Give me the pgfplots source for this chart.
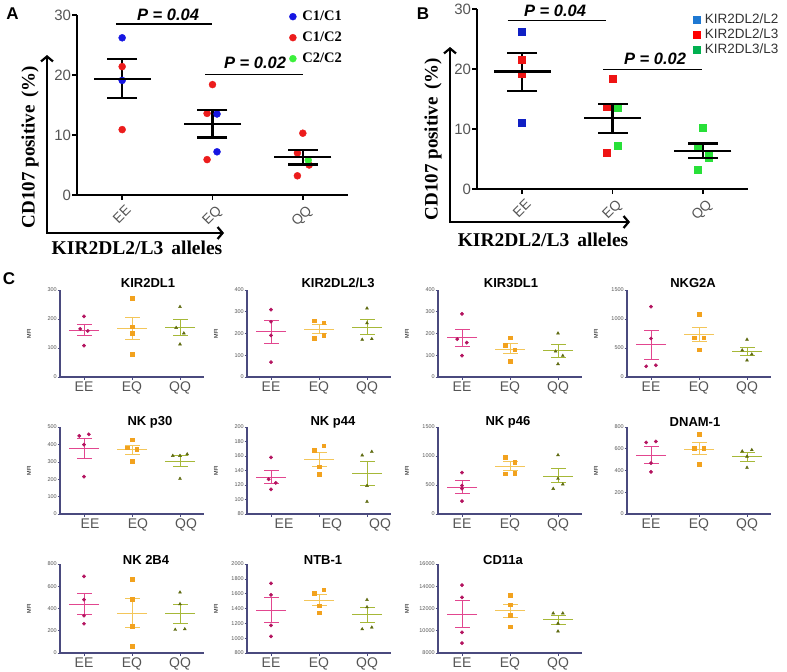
\documentclass[border=0pt]{standalone}
\usepackage{pgfplots}
\pgfplotsset{compat=1.18}
\usepackage{fontspec}
\setmainfont{Liberation Sans}
\newfontfamily\tnr{Liberation Serif}
\usetikzlibrary{arrows.meta}

\newcommand\fsz[1]{\fontsize{#1bp}{#1bp}\selectfont}

% panel A / B colours
\definecolor{cAblue}{HTML}{1616E2}
\definecolor{cAred}{HTML}{EC1C1C}
\definecolor{cAgreen}{HTML}{3CF03C}
\definecolor{cBblue}{HTML}{1020C4}
\definecolor{cBred}{HTML}{EE1414}
\definecolor{cBgreen}{HTML}{28E038}
\definecolor{lBblue}{HTML}{1E78D2}
\definecolor{lBred}{HTML}{FF0000}
\definecolor{lBgreen}{HTML}{00B050}
\definecolor{tgray}{HTML}{555555}
% panel C colours
\definecolor{cEEp}{HTML}{B3135F}
\definecolor{cEEl}{HTML}{E2468F}
\definecolor{cEQp}{HTML}{F2A21E}
\definecolor{cEQl}{HTML}{F3C65A}
\definecolor{cQQp}{HTML}{5E6A10}
\definecolor{cQQl}{HTML}{A6B838}
\definecolor{axc}{HTML}{4A4A7E}

\pgfplotsset{
  ptE/.style={only marks, mark=*, mark size=1.7bp, color=cEEp, forget plot},
  ptQ/.style={only marks, mark=square*, mark size=1.8bp, color=cEQp, forget plot},
  ptG/.style={only marks, mark=triangle*, mark size=1.7bp, color=cQQp, forget plot},
  cpanel/.style={
    anchor=south west, scale only axis, width=144bp,
    axis lines=left, axis line style={-, draw=axc, line width=1.3bp},
    xmin=-0.5, xmax=2.5, xtick={0,1,2}, xticklabels={EE,EQ,QQ},
    tick align=outside, major tick length=2.5bp,
    tick style={draw=axc, line width=0.6bp},
    xticklabel style={font=\fsz{14}, text=tgray, inner sep=1bp, yshift=-1.5bp},
    yticklabel style={font=\fsz{5.5}, text=tgray, inner sep=0.6bp},
    ylabel=MFI,
    ylabel style={font=\fsz{5.5}, at={(axis description cs:-0.215,0.5)}, anchor=center},
    /pgf/number format/1000 sep={}, /pgf/number format/assume math mode=true,
    scaled y ticks=false, clip=false,
    meanmark/.style={mark=-, mark size=15bp, line width=0.8bp},
    capmark/.style={mark=-, mark size=7.5bp, line width=0.8bp},
  },
  abpanel/.style={
    anchor=south west, scale only axis, width=271bp, height=180bp,
    axis lines=left, axis line style={-, line width=2.2bp},
    xmin=-0.5, xmax=2.5, ymin=0, ymax=30,
    xtick={0,1,2}, xticklabels={EE,EQ,QQ}, ytick={0,10,20,30},
    tick align=outside, major tick length=5bp,
    tick style={black, line width=1.5bp},
    xticklabel style={rotate=45, anchor=north east, font=\fsz{14}, text=tgray,
      inner sep=1bp, yshift=-4bp},
    yticklabel style={font=\fsz{15}, text=tgray, inner sep=0.8bp},
    /pgf/number format/assume math mode=true,
    clip=false,
    legend style={anchor=north west, draw=none, fill=none},
    legend cell align=left,
    meanmark/.style={mark=-, mark size=28.5bp, line width=2.2bp},
    capmark/.style={mark=-, mark size=15bp, line width=2.2bp},
  },
}

% mean line and SEM bar of one group: colour, x, mean, upper, lower
\newcommand\msem[5]{%
  \addplot[#1, meanmark, only marks, forget plot] coordinates {(#2,#3)};
  \addplot[#1, capmark, forget plot] coordinates {(#2,#4) (#2,#5)};
}

\begin{document}
\begin{tikzpicture}
\path[use as bounding box] (0,0) rectangle (787bp,-672bp);

% ---------------- panel A
\begin{axis}[abpanel, at={(77bp,-195bp)},
  legend style={at={(axis description cs:0.772,1.046)}, font=\tnr\bfseries\fsz{14.5},
    nodes={text height=10.5bp, text depth=3bp, inner sep=1bp}, row sep=5.5bp, column sep=5bp}]
\addlegendimage{only marks, mark=*, mark size=3.5bp, cAblue}
\addlegendimage{only marks, mark=*, mark size=3.5bp, cAred}
\addlegendimage{only marks, mark=*, mark size=3.5bp, cAgreen}
\legend{C1/C1, C1/C2, C2/C2}
\addplot[only marks, mark=*, mark size=3.5bp, cAred, forget plot] coordinates {
  (0,21.4) (0,10.9) (1,18.4) (0.94,13.6) (0.94,5.9) (2,10.3) (1.94,7.0) (2.07,5.0) (1.94,3.2)};
\addplot[only marks, mark=*, mark size=3.5bp, cAblue, forget plot] coordinates {
  (0,26.2) (0,19.1) (1.05,13.5) (1.05,7.2)};
\addplot[only marks, mark=*, mark size=3.5bp, cAgreen, forget plot] coordinates {(2.06,5.8)};
\msem{black}{0}{19.3}{22.7}{16.2}
\msem{black}{1}{11.8}{14.2}{9.6}
\msem{black}{2}{6.4}{7.5}{5.1}
\addplot[black, line width=1.4bp, forget plot] coordinates {(-0.07,28.5) (1.0,28.5)};
\addplot[black, line width=1.4bp, forget plot] coordinates {(0.92,20.1) (2.0,20.1)};
\end{axis}

% ---------------- panel B
\begin{axis}[abpanel, at={(477bp,-189bp)},
  legend style={at={(axis description cs:0.786,0.992)}, font=\fsz{13.5}, text=black!80,
    nodes={text height=9.5bp, text depth=2.5bp, inner sep=1bp}, row sep=1bp, column sep=4bp}]
\addlegendimage{only marks, mark=square*, mark size=3.3bp, lBblue}
\addlegendimage{only marks, mark=square*, mark size=3.3bp, lBred}
\addlegendimage{only marks, mark=square*, mark size=3.3bp, lBgreen}
\legend{KIR2DL2/L2, KIR2DL2/L3, KIR2DL3/L3}
\addplot[only marks, mark=square*, mark size=3.5bp, cBblue, forget plot] coordinates {
  (0,26.3) (0,11.0)};
\addplot[only marks, mark=square*, mark size=3.5bp, cBred, forget plot] coordinates {
  (0,21.5) (0,19.2) (1,18.4) (0.94,13.8) (0.94,6.1)};
\addplot[only marks, mark=square*, mark size=3.5bp, cBgreen, forget plot] coordinates {
  (1.06,13.5) (1.06,7.3) (2,10.3) (1.94,7.1) (2.06,5.6) (2.06,5.2) (1.94,3.3)};
\msem{black}{0}{19.6}{22.7}{16.4}
\msem{black}{1}{11.9}{14.2}{9.4}
\msem{black}{2}{6.4}{7.6}{5.2}
\addplot[black, line width=1.4bp, forget plot] coordinates {(-0.16,28.05) (0.93,28.05)};
\addplot[black, line width=1.4bp, forget plot] coordinates {(0.90,19.9) (1.99,19.9)};
\end{axis}

% A / B decorations
\draw[line width=2.2bp, {Straight Barb[length=5bp,width=12bp]}-{Straight Barb[length=5bp,width=12bp]}]
  (47bp,-55bp) -- (47bp,-233bp) -- (224bp,-233bp);
\draw[line width=2.2bp, {Straight Barb[length=5bp,width=12bp]}-{Straight Barb[length=5bp,width=12bp]}]
  (450bp,-47bp) -- (450bp,-222bp) -- (630bp,-222bp);
\node[rotate=90, font=\tnr\bfseries\fsz{19}] at (30bp,-147bp) {CD107 positive\hspace{3bp} (\%)};
\node[rotate=90, font=\tnr\bfseries\fsz{19}] at (433bp,-139bp) {CD107 positive\hspace{3bp} (\%)};
\node[font=\tnr\bfseries\fsz{19.5}] at (137bp,-248bp) {KIR2DL2/L3\hspace{8bp}alleles};
\node[font=\tnr\bfseries\fsz{19.5}] at (543bp,-240bp) {KIR2DL2/L3\hspace{8bp}alleles};
\node[font=\bfseries\itshape\fsz{16.5}] at (168bp,-15bp) {P = 0.04};
\node[font=\bfseries\itshape\fsz{16.5}] at (255bp,-63bp) {P = 0.02};
\node[font=\bfseries\itshape\fsz{16.5}] at (555bp,-11bp) {P = 0.04};
\node[font=\bfseries\itshape\fsz{16.5}] at (655bp,-59bp) {P = 0.02};
\node[font=\bfseries\fsz{17}] at (12.5bp,-14bp) {A};
\node[font=\bfseries\fsz{17}] at (423bp,-14bp) {B};
\node[font=\bfseries\fsz{17}] at (9bp,-279bp) {C};

% ---------------- panel C, row 1
\begin{axis}[cpanel, at={(60bp,-377bp)}, height=87bp, ymin=0, ymax=300, ytick={0,100,200,300}]
\msem{cEEl}{0}{162}{183}{142}
\msem{cEQl}{1}{167}{207}{130}
\msem{cQQl}{2}{172}{198}{144}
\addplot[ptE] coordinates {(0,209) (-0.08,166) (0.08,159) (0,108)};
\addplot[ptQ] coordinates {(1,271) (1,174) (1,151) (1,79)};
\addplot[ptG] coordinates {(2,242) (1.92,170) (2.08,151) (2,113)};
\end{axis}

\begin{axis}[cpanel, at={(247bp,-377bp)}, height=87bp, ymin=0, ymax=400, ytick={0,100,200,300,400}]
\msem{cEEl}{0}{208}{259}{155}
\msem{cEQl}{1}{220}{244}{202}
\msem{cQQl}{2}{230}{263}{194}
\addplot[ptE] coordinates {(0,310) (0,254) (0,191) (0,68)};
\addplot[ptQ] coordinates {(0.9,259) (1.1,250) (0.9,179) (1.1,191)};
\addplot[ptG] coordinates {(2,316) (2,248) (1.9,172) (2.1,175)};
\end{axis}

\begin{axis}[cpanel, at={(438bp,-377bp)}, height=87bp, ymin=0, ymax=400, ytick={0,100,200,300,400}]
\msem{cEEl}{0}{181}{219}{139}
\msem{cEQl}{1}{128}{154}{109}
\msem{cQQl}{2}{121}{151}{91}
\addplot[ptE] coordinates {(0,290) (-0.1,174) (0.1,158) (0,98)};
\addplot[ptQ] coordinates {(1,181) (0.9,146) (1.1,125) (1,72)};
\addplot[ptG] coordinates {(2,201) (1.95,118) (2.1,98) (2,60)};
\end{axis}

\begin{axis}[cpanel, at={(627bp,-377bp)}, height=87bp, ymin=0, ymax=1500, ytick={0,500,1000,1500}]
\msem{cEEl}{0}{554}{796}{306}
\msem{cEQl}{1}{733}{848}{606}
\msem{cQQl}{2}{450}{519}{375}
\addplot[ptE] coordinates {(0,1212) (0,664) (-0.1,185) (0.1,202)};
\addplot[ptQ] coordinates {(1,1085) (0.9,681) (1.1,681) (1,473)};
\addplot[ptG] coordinates {(2,646) (1.9,462) (2.1,392) (2,288)};
\end{axis}

% ---------------- panel C, row 2
\begin{axis}[cpanel, at={(60bp,-514bp)}, height=87bp, ymin=0, ymax=500, ytick={0,100,...,500},
  xticklabel style={xshift=6bp}]
\msem{cEEl}{0}{378}{437}{319}
\msem{cEQl}{1}{369}{395}{344}
\msem{cQQl}{2}{304}{338}{272}
\addplot[ptE] coordinates {(-0.1,449) (0.1,458) (0,399) (0,215)};
\addplot[ptQ] coordinates {(1,428) (0.9,380) (1.1,373) (1,304)};
\addplot[ptG] coordinates {(1.85,335) (2,335) (2.15,344) (2,203)};
\end{axis}

\begin{axis}[cpanel, at={(247bp,-514bp)}, height=87bp, ymin=80, ymax=200, ytick={80,100,...,200},
  xticklabel style={xshift=13bp}]
\msem{cEEl}{0}{130.5}{140}{122}
\msem{cEQl}{1}{155}{165}{146}
\msem{cQQl}{2}{135.5}{152}{119}
\addplot[ptE] coordinates {(0,158) (-0.05,128) (0.1,123) (0,114)};
\addplot[ptQ] coordinates {(0.9,168) (1.1,174) (1,145) (1,135)};
\addplot[ptG] coordinates {(1.9,161) (2.1,166) (2,119) (2,97)};
\end{axis}

\begin{axis}[cpanel, at={(438bp,-514bp)}, height=87bp, ymin=0, ymax=1500, ytick={0,500,1000,1500}]
\msem{cEEl}{0}{465}{587}{355}
\msem{cEQl}{1}{814}{901}{744}
\msem{cQQl}{2}{657}{785}{541}
\addplot[ptE] coordinates {(0,715) (0,490) (0,436) (0,221)};
\addplot[ptQ] coordinates {(0.9,977) (1.1,895) (0.9,698) (1.1,703)};
\addplot[ptG] coordinates {(2,1017) (2,610) (2.1,512) (1.9,436)};
\end{axis}

\begin{axis}[cpanel, at={(627bp,-514bp)}, height=87bp, ymin=0, ymax=800, ytick={0,200,...,800}]
\msem{cEEl}{0}{538}{619}{468}
\msem{cEQl}{1}{598}{659}{547}
\msem{cQQl}{2}{529}{562}{483}
\addplot[ptE] coordinates {(-0.1,658) (0.1,667) (0,468) (0,387)};
\addplot[ptQ] coordinates {(1,734) (0.9,607) (1.1,607) (1,456)};
\addplot[ptG] coordinates {(1.9,577) (2.1,589) (2,529) (2,426)};
\end{axis}

% ---------------- panel C, row 3
\begin{axis}[cpanel, at={(60bp,-653bp)}, height=89bp, ymin=0, ymax=800, ytick={0,200,...,800}]
\msem{cEEl}{0}{440}{539}{344}
\msem{cEQl}{1}{359}{494}{230}
\msem{cQQl}{2}{352}{436}{268}
\addplot[ptE] coordinates {(0,689) (0,479) (0,335) (0,263)};
\addplot[ptQ] coordinates {(1,665) (1,485) (1,240) (1,60)};
\addplot[ptG] coordinates {(2,545) (2,440) (1.9,210) (2.1,215)};
\end{axis}

\begin{axis}[cpanel, at={(247bp,-653bp)}, height=89bp, ymin=800, ymax=2000, ytick={800,1000,...,2000}]
\msem{cEEl}{0}{1373}{1552}{1212}
\msem{cEQl}{1}{1507}{1584}{1440}
\msem{cQQl}{2}{1324}{1418}{1212}
\addplot[ptE] coordinates {(0,1740) (0,1584) (0,1172) (0,1025)};
\addplot[ptQ] coordinates {(0.9,1606) (1.1,1651) (1,1436) (1,1346)};
\addplot[ptG] coordinates {(2,1517) (2,1419) (1.9,1122) (2.1,1145)};
\end{axis}

\begin{axis}[cpanel, at={(438bp,-653bp)}, height=89bp, ymin=8000, ymax=16000, ytick={8000,10000,...,16000}]
\msem{cEEl}{0}{11481}{12702}{10260}
\msem{cEQl}{1}{11847}{12397}{11206}
\msem{cQQl}{2}{11023}{11359}{10595}
\addplot[ptE] coordinates {(0,14107) (0,13008) (0,9863) (0,8885)};
\addplot[ptQ] coordinates {(1,13191) (1,12336) (1,11420) (1,10351)};
\addplot[ptG] coordinates {(1.9,11573) (2.1,11573) (2,10656) (2,9954)};
\end{axis}

% panel C titles
\begin{scope}[every node/.style={font=\bfseries\fsz{13}}]
\node at (148bp,-283bp) {KIR2DL1};
\node at (338bp,-283bp) {KIR2DL2/L3};
\node at (511bp,-283bp) {KIR3DL1};
\node at (693bp,-283bp) {NKG2A};
\node at (150bp,-422bp) {NK p30};
\node at (333bp,-422bp) {NK p44};
\node at (508bp,-422bp) {NK p46};
\node at (695bp,-422bp) {DNAM-1};
\node at (146bp,-560bp) {NK 2B4};
\node at (323bp,-560bp) {NTB-1};
\node at (503bp,-560bp) {CD11a};
\end{scope}
\end{tikzpicture}
\end{document}
